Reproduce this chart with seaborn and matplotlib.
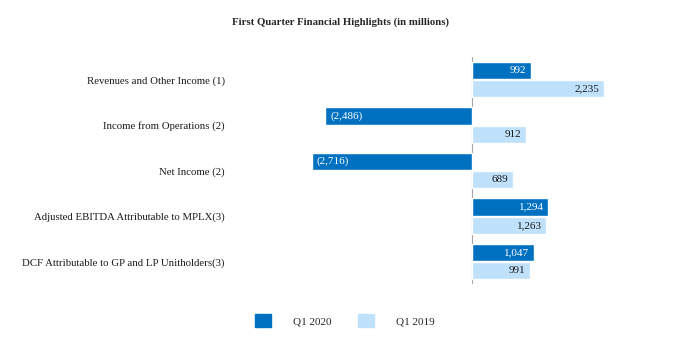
import pandas as pd
import matplotlib
matplotlib.use("Agg")
import matplotlib.pyplot as plt
import seaborn as sns

# Data
CATEGORIES = [
    "Revenues and Other Income (1)",
    "Income from Operations (2)",
    "Net Income (2)",
    "Adjusted EBITDA Attributable to MPLX(3)",
    "DCF Attributable to GP and LP Unitholders(3)",
]
Q1_2020 = [992, -2486, -2716, 1294, 1047]
Q1_2019 = [2235, 912, 689, 1263, 991]
SERIES = ["Q1 2020", "Q1 2019"]
COLORS = {"Q1 2020": "#0070C0", "Q1 2019": "#BFE1FB"}

df = pd.DataFrame({
    "Metric": CATEGORIES * 2,
    "Value": Q1_2020 + Q1_2019,
    "Period": [SERIES[0]] * len(CATEGORIES) + [SERIES[1]] * len(CATEGORIES),
})

sns.set_theme(style="white")
plt.rcParams["font.family"] = ["Liberation Serif", "DejaVu Serif"]

fig = plt.figure(figsize=(6.82, 3.56), dpi=100)
ax = fig.add_axes([0.352, 0.201, 0.601, 0.639])

sns.barplot(data=df, y="Metric", x="Value", hue="Period", orient="h",
            palette=COLORS, width=0.8, gap=0.05, ax=ax, legend=False,
            saturation=1, errorbar=None)

ax.set_xlim(-3932, 3017)
ax.set_ylim(4.5, -0.5)
ax.set_xlabel("")
ax.set_ylabel("")
ax.set_xticks([])
for s in ax.spines.values():
    s.set_visible(False)
ax.axvline(0, color="#a6a6a6", lw=0.8, zorder=0)
ax.tick_params(axis="y", length=0, pad=11, labelsize=7.75, colors="#1a1a1a")

# value labels
def fmt(v):
    s = f"{abs(v):,}"
    return f"({s})" if v < 0 else s

pad = 80
for container, name in zip(ax.containers, SERIES):
    txt_color = "white" if name == "Q1 2020" else "#1a1a1a"
    for bar in container:
        v = bar.get_width()
        y = bar.get_y() + bar.get_height() / 2
        if v >= 0:
            ax.text(v - pad, y, fmt(int(round(v))), ha="right", va="center",
                    color=txt_color, fontsize=8)
        else:
            ax.text(v + pad, y, fmt(int(round(v))), ha="left", va="center",
                    color=txt_color, fontsize=8)

fig.suptitle("First Quarter Financial Highlights (in millions)", x=0.5, y=0.952,
             fontsize=7.75, fontweight="bold")

handles = [plt.Rectangle((0, 0), 1, 1, color=COLORS[s]) for s in SERIES]
fig.legend(handles, SERIES, loc="center", bbox_to_anchor=(0.506, 0.10), ncol=2,
           frameon=False, fontsize=8, handlelength=1.4, handleheight=1.4,
           handletextpad=2.0, columnspacing=2.4)

fig.savefig("out.png", dpi=100)
